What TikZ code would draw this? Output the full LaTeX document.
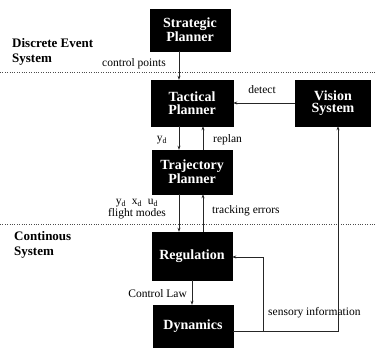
\documentclass[tikz,border=0pt]{standalone}
\usepackage{fontspec}
\setmainfont{Liberation Serif}
\usetikzlibrary{arrows.meta}
\begin{document}
\begin{tikzpicture}[x=1pt,y=-1pt,
  blk/.style={draw=black,fill=black,text=white,font=\fontsize{14}{12.5}\selectfont\bfseries,align=center,inner sep=0pt},
  lab/.style={font=\fontsize{11.5}{13}\selectfont,inner sep=1pt},
  head/.style={font=\fontsize{13}{15}\selectfont\bfseries,align=left,inner sep=0pt},
  arr/.style={draw=black!85,line width=0.6pt,-{Stealth[length=4pt,width=3pt]}},
  ln/.style={draw=black!85,line width=0.6pt},
  sep/.style={draw=black!70,line width=0.6pt,dash pattern=on 0.8pt off 1.6pt}]
\useasboundingbox (0,0) rectangle (376,348);
% columns
\coordinate (c1) at (179,0);
\coordinate (c2) at (203,0);
\coordinate (c3) at (192,0);
\coordinate (c4) at (338,0);
\coordinate (c5) at (263,0);
% boxes
\node[blk,minimum width=80pt,minimum height=42pt] (strat) at (190,30) {Strategic\\Planner};
\node[blk,minimum width=82pt,minimum height=46pt] (tact) at (192,103) {Tactical\\Planner};
\node[blk,minimum width=75pt,minimum height=46pt] (vis) at (333,103) {Vision\\System};
\node[blk,minimum width=80pt,minimum height=44pt] (traj) at (192,172) {Trajectory\\Planner};
\node[blk,minimum width=80pt,minimum height=48pt] (reg) at (192,256) {Regulation};
\node[blk,minimum width=80pt,minimum height=42pt] (dyn) at (193,326) {Dynamics};
% separators
\coordinate (s1a) at (0,72);
\coordinate (s1b) at (376,72);
\coordinate (s2a) at (0,224);
\coordinate (s2b) at (376,224);
\draw[sep] (s1a) -- (s1b);
\draw[sep] (s2a) -- (s2b);
% headings
\node[head,anchor=north west] (hd1) at (12,38) {Discrete Event\\System};
\node[head,anchor=north west] (hd2) at (14,231) {Continous\\System};
% connectors
\draw[arr] (strat.south -| c1) -- (tact.north -| c1);
\draw[arr] (vis.west) -- (tact.east);
\draw[arr] (tact.south -| c1) -- (traj.north -| c1);
\draw[arr] (traj.north -| c2) -- (tact.south -| c2);
\draw[arr] (traj.south -| c1) -- (reg.north -| c1);
\draw[arr] (reg.north -| c2) -- (traj.south -| c2);
\draw[arr] (reg.south -| c3) -- (dyn.north -| c3);
\coordinate (fb) at (0,331);
\coordinate (rg) at (0,257);
\draw[ln] (dyn.east |- fb) -- (c5 |- fb);
\draw[arr] (c5 |- fb) -- (c4 |- fb) -- (vis.south -| c4);
\draw[arr] (c5 |- fb) -- (c5 |- rg) -- (reg.east |- rg);
% labels
\node[lab,anchor=east] (lcp) at (167,64) {control points};
\node[lab] (ldet) at (262,90) {detect};
\node[lab] (lyd) at (162,140) {y$_{\mathrm{d}}$};
\node[lab,anchor=west] (lrep) at (212,140) {replan};
\node[lab,align=center,font=\fontsize{11.5}{10}\selectfont] (lfm) at (137,209) {y$_{\mathrm{d}}$\ \ x$_{\mathrm{d}}$\ \ u$_{\mathrm{d}}$\\flight modes};
\node[lab,anchor=west] (ltr) at (211,211) {tracking errors};
\node[lab,anchor=east] (lcl) at (188,294) {Control Law};
\node[lab,anchor=west] (lsi) at (267,313) {sensory information};
\end{tikzpicture}
\end{document}
